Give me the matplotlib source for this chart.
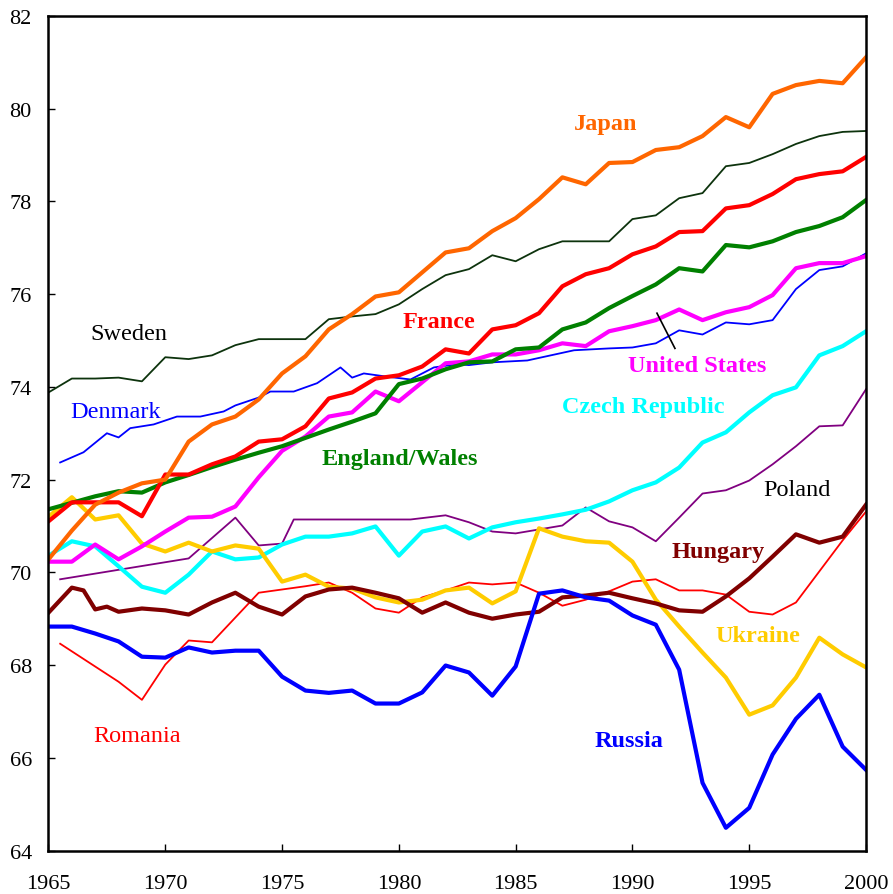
import numpy as np
import matplotlib.pyplot as plt

years = np.arange(1965, 2001)

japan = [70.28, 70.9, 71.46, 71.72, 71.92, 72.0, 72.82, 73.19, 73.36, 73.73,
         74.29, 74.66, 75.24, 75.57, 75.95, 76.04, 76.47, 76.9, 76.99, 77.36,
         77.64, 78.05, 78.52, 78.37, 78.83, 78.85, 79.11, 79.17, 79.41, 79.82,
         79.6, 80.32, 80.51, 80.6, 80.55, 81.11]
sweden = [73.88, 74.18, 74.18, 74.2, 74.12, 74.64, 74.6, 74.68, 74.9, 75.03,
          75.03, 75.03, 75.46, 75.52, 75.57, 75.78, 76.11, 76.41, 76.54, 76.84,
          76.71, 76.97, 77.14, 77.14, 77.14, 77.62, 77.7, 78.07, 78.18, 78.76,
          78.83, 79.02, 79.24, 79.41, 79.5, 79.52]
france = [71.1, 71.51, 71.51, 71.51, 71.21, 72.11, 72.11, 72.33, 72.5, 72.82,
          72.87, 73.15, 73.75, 73.88, 74.18, 74.25, 74.44, 74.81, 74.72, 75.24,
          75.33, 75.59, 76.17, 76.43, 76.56, 76.86, 77.03, 77.34, 77.36, 77.85,
          77.92, 78.16, 78.48, 78.59, 78.65, 78.96]
england = [71.36, 71.5, 71.64, 71.75, 71.72, 71.94, 72.1, 72.27, 72.43, 72.58,
           72.72, 72.9, 73.08, 73.25, 73.43, 74.06, 74.18, 74.38, 74.53, 74.55,
           74.81, 74.85, 75.24, 75.39, 75.7, 75.96, 76.21, 76.56, 76.49, 77.06,
           77.01, 77.14, 77.34, 77.47, 77.66, 78.03]
usa = [70.23, 70.23, 70.6, 70.28, 70.56, 70.88, 71.18, 71.2, 71.42, 72.05,
       72.62, 72.93, 73.36, 73.45, 73.9, 73.69, 74.1, 74.51, 74.55, 74.7,
       74.7, 74.79, 74.94, 74.88, 75.2, 75.31, 75.44, 75.67, 75.44, 75.61,
       75.72, 75.98, 76.56, 76.67, 76.67, 76.82]
czech = [70.36, 70.67, 70.56, 70.13, 69.69, 69.56, 69.95, 70.45, 70.28, 70.32,
         70.6, 70.77, 70.77, 70.84, 70.99, 70.36, 70.88, 70.99, 70.73, 70.97,
         71.08, 71.16, 71.25, 71.35, 71.53, 71.77, 71.94, 72.26, 72.8, 73.02,
         73.45, 73.82, 73.99, 74.68, 74.88, 75.2]
ukraine = [71.2, 71.62, 71.14, 71.23, 70.62, 70.45, 70.64, 70.45, 70.58, 70.51,
           69.8, 69.95, 69.69, 69.65, 69.46, 69.35, 69.41, 69.61, 69.67, 69.33,
           69.59, 70.95, 70.77, 70.67, 70.64, 70.23, 69.41, 68.83, 68.27, 67.73,
           66.93, 67.13, 67.73, 68.59, 68.23, 67.95]
russia = [68.83, 68.83, 68.68, 68.51, 68.18, 68.16, 68.38, 68.27, 68.31, 68.31,
          67.75, 67.45, 67.4, 67.45, 67.17, 67.17, 67.41, 67.99, 67.84, 67.34,
          67.97, 69.54, 69.61, 69.46, 69.39, 69.07, 68.87, 67.9, 65.46, 64.49,
          64.92, 66.07, 66.84, 67.36, 66.24, 65.74]

hungary_years = [1965, 1966, 1966.5, 1967, 1967.5, 1968] + list(range(1969, 2001))
hungary = [69.13, 69.67, 69.61, 69.2, 69.26, 69.15, 69.22, 69.18, 69.09, 69.35,
           69.56, 69.26, 69.09, 69.48, 69.63, 69.67, 69.56, 69.44, 69.13, 69.35,
           69.13, 69.0, 69.09, 69.15, 69.46, 69.5, 69.56, 69.44, 69.33, 69.18,
           69.15, 69.48, 69.87, 70.34, 70.82, 70.64, 70.77, 71.46]

denmark_years = [1965.5, 1966.5, 1967.5, 1968.0, 1968.5, 1969.5, 1970.5, 1971.5,
                 1972.5, 1973.0, 1974.0, 1974.5, 1975.5, 1976.5, 1977.5, 1978.0,
                 1978.5, 1979.5, 1980.5, 1981.5, 1982.5, 1983.0, 1984.0, 1985.5,
                 1986.5, 1987.5] + list(range(1989, 2001))
denmark = [72.37, 72.59, 73.0, 72.91, 73.11, 73.19, 73.36, 73.36, 73.47, 73.6,
           73.77, 73.9, 73.9, 74.08, 74.42, 74.2, 74.29, 74.22, 74.16, 74.42,
           74.49, 74.47, 74.53, 74.57, 74.68, 74.79, 74.83, 74.85, 74.94, 75.22,
           75.13, 75.39, 75.35, 75.44, 76.11, 76.52, 76.6, 76.88]

poland_years = [1965.5, 1971, 1973, 1974, 1975, 1975.5, 1980.5, 1982, 1983,
                1984, 1985, 1987, 1988] + list(range(1989, 2001))
poland = [69.85, 70.3, 71.18, 70.58, 70.62, 71.14, 71.14, 71.23, 71.08, 70.88,
          70.84, 71.01, 71.4, 71.1, 70.97, 70.67, 71.18, 71.7, 71.77, 71.98,
          72.33, 72.72, 73.15, 73.17, 73.95]

romania_years = [1965.5, 1968, 1969] + list(range(1970, 1972 + 1)) + list(range(1974, 2001))
romania = [68.46, 67.64, 67.25, 68.01, 68.53, 68.49, 69.56, 69.63, 69.7, 69.78,
           69.56, 69.22, 69.13, 69.46, 69.61, 69.78, 69.74, 69.78, 69.56, 69.28,
           69.41, 69.59, 69.8, 69.85, 69.61, 69.61, 69.52, 69.15, 69.09, 69.35,
           70.02, 70.69, 71.31]

thick = 3.0
thin = 1.3

fig = plt.figure(figsize=(8.93, 8.95), dpi=100)
ax = fig.add_axes([0.0543, 0.0486, 0.9155, 0.9324])

ax.plot(poland_years, poland, color='#800080', lw=thin)
ax.plot(romania_years, romania, color='#FF0000', lw=thin)
ax.plot(denmark_years, denmark, color='#0000FF', lw=thin)
ax.plot(years, sweden, color='#0d330d', lw=thin)
ax.plot(years, czech, color='#00FFFF', lw=thick)
ax.plot(years, ukraine, color='#FFCC00', lw=thick)
ax.plot(hungary_years, hungary, color='#800000', lw=thick)
ax.plot(years, russia, color='#0000FF', lw=thick)
ax.plot(years, usa, color='#FF00FF', lw=thick)
ax.plot(years, england, color='#008000', lw=thick)
ax.plot(years, france, color='#FF0000', lw=thick)
ax.plot(years, japan, color='#FF6600', lw=thick)

# pointer from the United States label
ax.plot([1991.05, 1991.82], [75.59, 74.83], color='black', lw=1.2)

serif = ['Liberation Serif', 'DejaVu Serif']
labels = [
    ('Japan', 1988.84, 79.69, '#FF6600', 'bold'),
    ('Sweden', 1968.45, 75.16, 'black', 'normal'),
    ('France', 1981.72, 75.42, '#FF0000', 'bold'),
    ('United States', 1992.76, 74.47, '#FF00FF', 'bold'),
    ('Denmark', 1967.89, 73.47, '#0000FF', 'normal'),
    ('Czech Republic', 1990.45, 73.58, '#00FFFF', 'bold'),
    ('England/Wales', 1980.05, 72.46, '#008000', 'bold'),
    ('Poland', 1997.04, 71.79, 'black', 'normal'),
    ('Hungary', 1993.66, 70.45, '#800000', 'bold'),
    ('Ukraine', 1995.37, 68.64, '#FFCC00', 'bold'),
    ('Romania', 1968.79, 66.48, '#FF0000', 'normal'),
    ('Russia', 1989.85, 66.37, '#0000FF', 'bold'),
]
for text, x, y, c, w in labels:
    ax.text(x, y, text, color=c, fontweight=w, fontsize=17.5, family=serif,
            ha='center', va='center')

ax.set_xlim(1965, 2000)
ax.set_ylim(64, 82)
ax.set_xticks(range(1965, 2001, 5))
ax.set_yticks(range(64, 83, 2))
ax.tick_params(direction='in', length=5, width=1, labelsize=16)
ax.tick_params(axis='x', pad=17)
ax.tick_params(axis='y', pad=12)
for lab in ax.get_xticklabels() + ax.get_yticklabels():
    lab.set_family(serif)
for s in ax.spines.values():
    s.set_linewidth(1.8)

fig.savefig('out.png', dpi=100)
